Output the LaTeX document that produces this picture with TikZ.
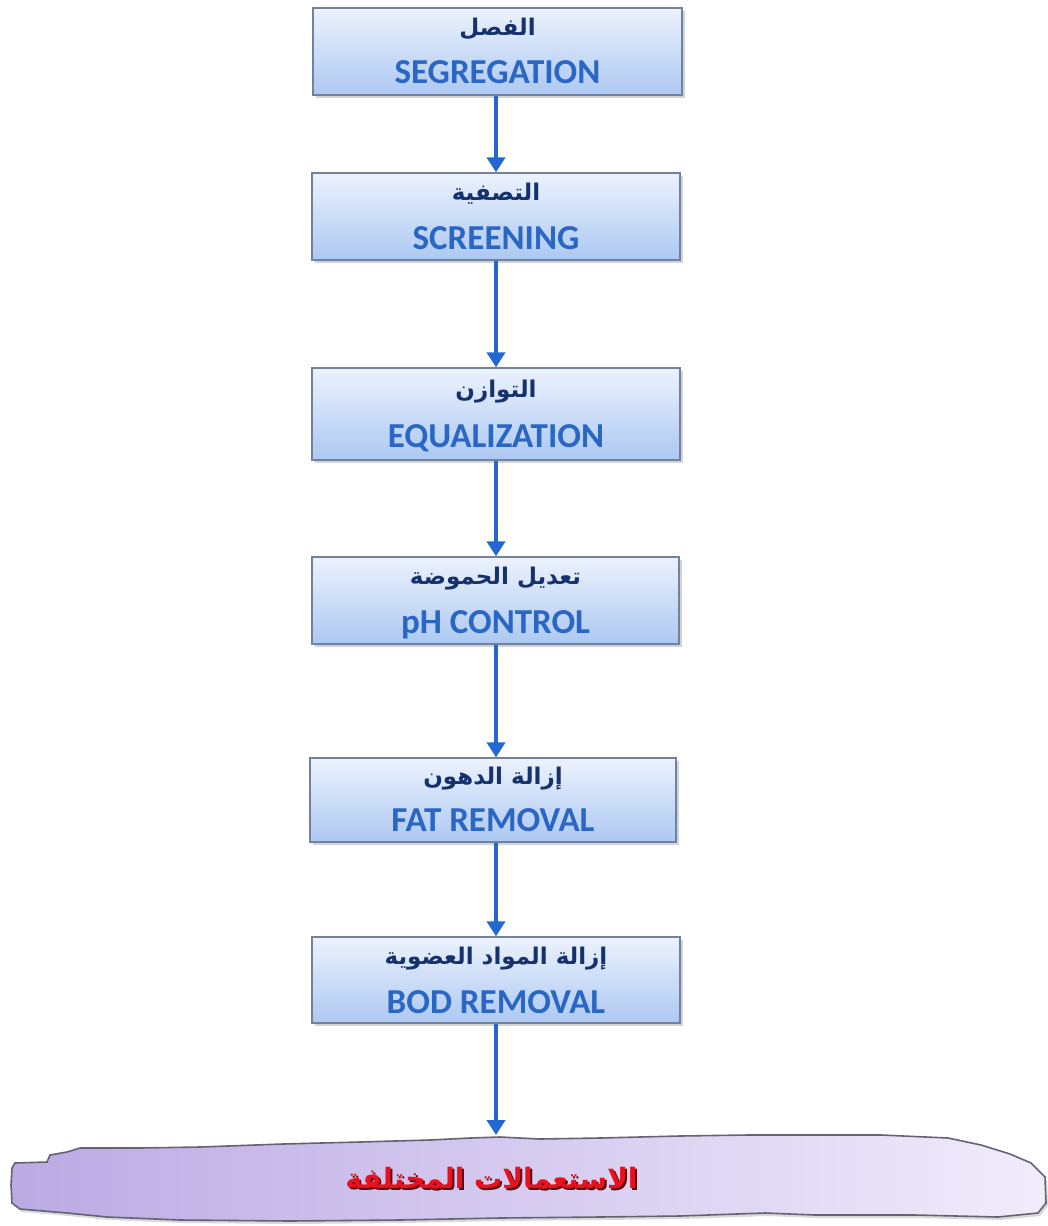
\documentclass[tikz,border=0pt]{standalone}
\usepackage{fontspec}
\setmainfont{Carlito}
\newfontfamily\arabicfont[Script=Arabic]{DejaVu Sans}
\TeXXeTstate=1
\usetikzlibrary{arrows.meta,shadows}
\definecolor{boxtop}{RGB}{236,242,253}
\definecolor{boxbot}{RGB}{172,200,242}
\definecolor{boxline}{RGB}{112,130,160}
\definecolor{entxt}{RGB}{42,102,196}
\definecolor{artxt}{RGB}{22,50,108}
\definecolor{arrowblue}{RGB}{34,104,208}
\definecolor{blobleft}{RGB}{188,170,228}
\definecolor{blobright}{RGB}{240,236,251}
\definecolor{blobline}{RGB}{100,98,115}
\definecolor{redtxt}{RGB}{232,18,30}
\definecolor{redshadow}{RGB}{95,10,15}
\tikzset{
  stepbox/.style={draw=boxline, line width=1.3pt, top color=boxtop, bottom color=boxbot,
    inner sep=0pt, drop shadow={shadow xshift=2.5pt, shadow yshift=-2.5pt, opacity=0.35}},
  entext/.style={text=entxt, font=\bfseries\fontsize{35}{38}\selectfont, inner sep=0pt, anchor=base},
  artext/.style={text=artxt, font=\arabicfont\bfseries\fontsize{23}{26}\selectfont, inner sep=0pt, anchor=base},
  flow/.style={draw=arrowblue, line width=4.8pt, -{Triangle[width=18pt,length=15pt]}},
}
\begin{document}
\begin{tikzpicture}[x=1pt,y=-1pt]
\useasboundingbox (0,0) rectangle (1048,1226);
\coordinate (ax) at (496,0);
% boxes
\node[stepbox, minimum width=369pt, minimum height=87pt] (b1) at (497.5,51.5) {};
\node[stepbox, minimum width=368pt, minimum height=87pt] (b2) at (496,216.5) {};
\node[stepbox, minimum width=368pt, minimum height=92pt] (b3) at (496,414) {};
\node[stepbox, minimum width=367pt, minimum height=87pt] (b4) at (495.5,600.5) {};
\node[stepbox, minimum width=366pt, minimum height=84pt] (b5) at (493,800) {};
\node[stepbox, minimum width=368pt, minimum height=86pt] (b6) at (496,980) {};
% texts
\node[artext] (a1) at ([yshift=-28pt]b1.north) {\beginR الفصل\endR};
\node[entext] (e1) at ([yshift=-76pt]b1.north) {SEGREGATION};
\node[artext] (a2) at ([yshift=-28pt]b2.north) {\beginR التصفية\endR};
\node[entext] (e2) at ([yshift=-77pt]b2.north) {SCREENING};
\node[artext] (a3) at ([yshift=-30pt]b3.north) {\beginR التوازن\endR};
\node[entext] (e3) at ([yshift=-80pt]b3.north) {EQUALIZATION};
\node[artext] (a4) at ([yshift=-28pt]b4.north) {\beginR تعديل الحموضة\endR};
\node[entext] (e4) at ([yshift=-77pt]b4.north) {pH CONTROL};
\node[artext] (a5) at ([yshift=-27pt]b5.north) {\beginR إزالة الدهون\endR};
\node[entext] (e5) at ([yshift=-74pt]b5.north) {FAT REMOVAL};
\node[artext] (a6) at ([yshift=-28pt]b6.north) {\beginR إزالة المواد العضوية\endR};
\node[entext] (e6) at ([yshift=-77pt]b6.north) {BOD REMOVAL};
% bottom torn-paper shape
\path[draw=blobline, line width=1.6pt, left color=blobleft, right color=blobright,
  drop shadow={shadow xshift=2pt, shadow yshift=-3pt, opacity=0.3}]
  (47,1162) -- (50,1155) -- (67,1152) -- (80,1148) -- (140,1148) -- (200,1147)
  -- (283,1144) -- (360,1142) -- (430,1140) -- (470,1138) -- (500,1137) -- (540,1139)
  -- (600,1138) -- (680,1136) -- (748,1135) -- (881,1135) -- (948,1138) -- (981,1145)
  -- (1010,1154) -- (1031,1163) -- (1045,1177) -- (1046,1203) -- (1038,1213)
  -- (998,1217) -- (915,1215) -- (815,1215) -- (765,1213) -- (680,1216) -- (600,1217)
  -- (500,1218) -- (400,1220) -- (290,1221) -- (180,1220) -- (107,1217) -- (67,1213)
  -- (20,1209) -- (12,1203) -- (11,1185) -- (12,1168) -- (15,1163) -- cycle;
\coordinate (blobtop) at (496,1135);
\node[font=\arabicfont\bfseries\fontsize{28}{30}\selectfont, text=redshadow, inner sep=0pt] (ush) at (493.5,1180.5) {\beginR الاستعمالات المختلفة\endR};
\node[font=\arabicfont\bfseries\fontsize{28}{30}\selectfont, text=redtxt, inner sep=0pt] (use) at (491.5,1178.5) {\beginR الاستعمالات المختلفة\endR};
% arrows
\draw[flow] (b1.south -| ax) -- (b2.north -| ax);
\draw[flow] (b2.south -| ax) -- (b3.north -| ax);
\draw[flow] (b3.south -| ax) -- (b4.north -| ax);
\draw[flow] (b4.south -| ax) -- (b5.north -| ax);
\draw[flow] (b5.south -| ax) -- (b6.north -| ax);
\draw[flow] (b6.south -| ax) -- (blobtop);
\end{tikzpicture}
\end{document}
